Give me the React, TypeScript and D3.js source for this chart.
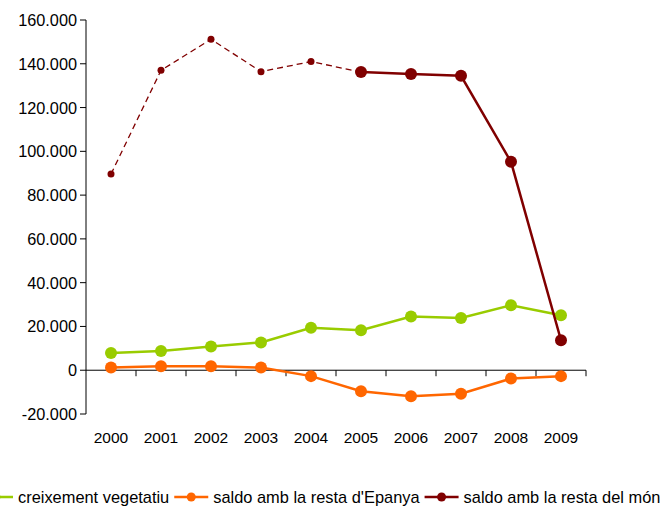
import { useEffect, useRef } from 'react';
import * as d3 from 'd3';

const years = ['2000', '2001', '2002', '2003', '2004', '2005', '2006', '2007', '2008', '2009'];
const creixement = [7900, 8800, 10800, 12700, 19400, 18300, 24500, 23900, 29700, 25100];
const saldoEspanya = [1200, 1800, 1800, 1200, -2700, -9600, -11900, -10700, -3800, -2700];
const saldoMon = [89600, 137000, 151200, 136400, 141000, 136200, 135300, 134500, 95200, 13700];
const yTicks = [-20000, 0, 20000, 40000, 60000, 80000, 100000, 120000, 140000, 160000];
// the series "resta del món" is dashed up to this year
const dashedUntil = '2005';

const seriesNames = ['creixement vegetatiu', "saldo amb la resta d'Epanya", 'saldo amb la resta del món'];
const colors = ['#99cc00', '#ff6600', '#800000'];

export default function App() {
  const svgRef = useRef<SVGSVGElement>(null);

  useEffect(() => {
    document.body.style.margin = '0';
    if (!svgRef.current) return;
    d3.select(svgRef.current).selectAll('*').remove();

    const width = 661;
    const height = 507;
    const svg = d3.select(svgRef.current).attr('width', width).attr('height', height);
    const font = '"Liberation Sans", Arial, sans-serif';

    const x = d3.scaleBand<string>().domain(years).range([86, 586]);
    const y = d3.scaleLinear().domain([-20000, 160000]).range([414, 20]);
    const cx = (d: string) => (x(d) ?? 0) + x.bandwidth() / 2;

    const loc = d3.formatLocale({ decimal: ',', thousands: '.', grouping: [3], currency: ['', '€'], minus: '-' });
    const fmt = loc.format(',d');

    // y axis
    const yAxis = svg.append('g');
    yAxis.append('line')
      .attr('x1', 86).attr('x2', 86).attr('y1', y(160000)).attr('y2', y(-20000))
      .attr('stroke', '#000').attr('stroke-width', 1);
    yTicks.forEach(t => {
      yAxis.append('line')
        .attr('x1', 80).attr('x2', 86).attr('y1', y(t)).attr('y2', y(t))
        .attr('stroke', '#000');
      yAxis.append('text')
        .attr('x', 77).attr('y', y(t))
        .attr('text-anchor', 'end').attr('dominant-baseline', 'central')
        .attr('font-family', font).attr('font-size', '16.3px').attr('fill', '#000')
        .text(fmt(t));
    });

    // x axis at zero
    const y0 = y(0);
    svg.append('line')
      .attr('x1', 86).attr('x2', 586).attr('y1', y0).attr('y2', y0)
      .attr('stroke', '#000');
    years.forEach(yr => {
      const bx = (x(yr) ?? 0) + x.bandwidth();
      svg.append('line')
        .attr('x1', bx).attr('x2', bx).attr('y1', y0).attr('y2', y0 + 6)
        .attr('stroke', '#000');
      svg.append('text')
        .attr('x', cx(yr)).attr('y', 437)
        .attr('text-anchor', 'middle').attr('dominant-baseline', 'central')
        .attr('font-family', font).attr('font-size', '15.5px').attr('fill', '#000')
        .text(yr);
    });

    const line = d3.line<[string, number]>().x(d => cx(d[0])).y(d => y(d[1]));

    // green and orange series
    [creixement, saldoEspanya].forEach((vals, si) => {
      const pts: [string, number][] = years.map((yr, i) => [yr, vals[i]]);
      svg.append('path')
        .attr('d', line(pts) ?? '')
        .attr('fill', 'none').attr('stroke', colors[si]).attr('stroke-width', 2.5);
      svg.selectAll(null).data(pts).enter().append('circle')
        .attr('cx', d => cx(d[0])).attr('cy', d => y(d[1])).attr('r', 6)
        .attr('fill', colors[si]);
    });

    // dark red series: dashed part then solid part
    const monPts: [string, number][] = years.map((yr, i) => [yr, saldoMon[i]]);
    const cut = years.indexOf(dashedUntil);
    const dashed = monPts.slice(0, cut + 1);
    const solid = monPts.slice(cut);
    svg.append('path')
      .attr('d', line(dashed) ?? '')
      .attr('fill', 'none').attr('stroke', colors[2]).attr('stroke-width', 1.3)
      .attr('stroke-dasharray', '6,4');
    svg.append('path')
      .attr('d', line(solid) ?? '')
      .attr('fill', 'none').attr('stroke', colors[2]).attr('stroke-width', 2.5);
    svg.selectAll(null).data(monPts.slice(0, cut)).enter().append('circle')
      .attr('cx', d => cx(d[0])).attr('cy', d => y(d[1])).attr('r', 3.5)
      .attr('fill', colors[2]);
    svg.selectAll(null).data(solid).enter().append('circle')
      .attr('cx', d => cx(d[0])).attr('cy', d => y(d[1])).attr('r', 6)
      .attr('fill', colors[2]);

    // legend
    const ly = 497;
    let lx = -21;
    seriesNames.forEach((name, i) => {
      const g = svg.append('g');
      g.append('line')
        .attr('x1', lx).attr('x2', lx + 34).attr('y1', ly).attr('y2', ly)
        .attr('stroke', colors[i]).attr('stroke-width', 2.5);
      g.append('circle')
        .attr('cx', lx + 17).attr('cy', ly).attr('r', 4.5).attr('fill', colors[i]);
      const t = g.append('text')
        .attr('x', lx + 39).attr('y', ly)
        .attr('dominant-baseline', 'central')
        .attr('font-family', font).attr('font-size', '16.4px').attr('fill', '#000')
        .text(name);
      const w = (t.node() as SVGTextElement).getComputedTextLength();
      lx = lx + 39 + w + 5;
    });
  }, []);

  return <svg ref={svgRef} style={{ display: 'block' }}></svg>;
}
